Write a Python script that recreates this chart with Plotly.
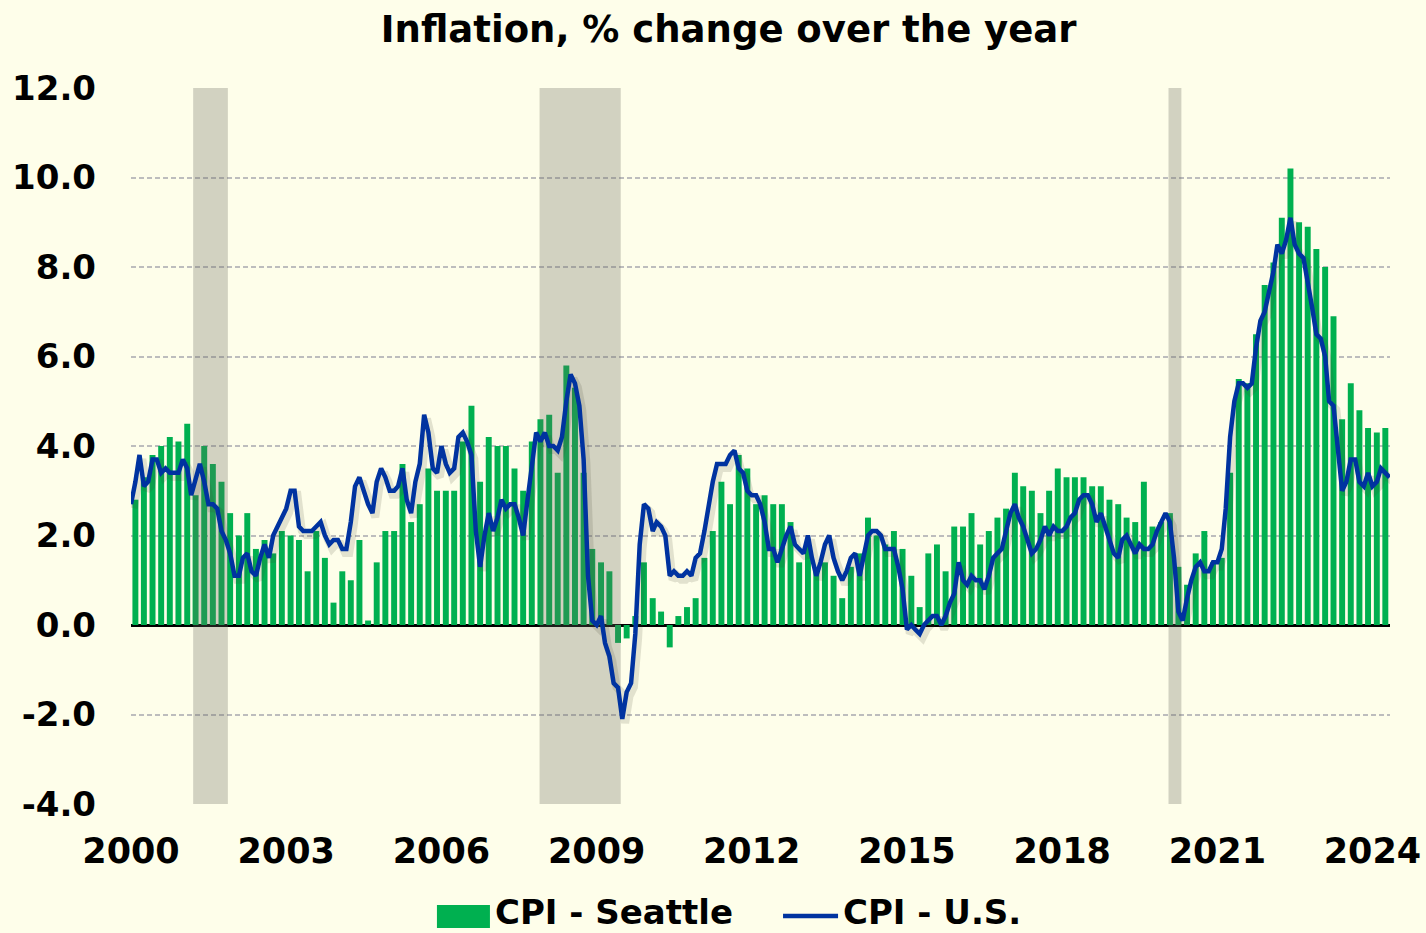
import pandas as pd
import plotly.graph_objects as go

# ---------------- data ----------------
# U.S. CPI, % change over the year, monthly Jan 2000 - May 2024
us_cpi = [
    2.7, 3.2, 3.8, 3.1, 3.2, 3.7, 3.7, 3.4, 3.5, 3.4, 3.4, 3.4,   # 2000
    3.7, 3.5, 2.9, 3.3, 3.6, 3.2, 2.7, 2.7, 2.6, 2.1, 1.9, 1.6,   # 2001
    1.1, 1.1, 1.5, 1.6, 1.2, 1.1, 1.5, 1.8, 1.5, 2.0, 2.2, 2.4,   # 2002
    2.6, 3.0, 3.0, 2.2, 2.1, 2.1, 2.1, 2.2, 2.3, 2.0, 1.8, 1.9,   # 2003
    1.9, 1.7, 1.7, 2.3, 3.1, 3.3, 3.0, 2.7, 2.5, 3.2, 3.5, 3.3,   # 2004
    3.0, 3.0, 3.1, 3.5, 2.8, 2.5, 3.2, 3.6, 4.7, 4.3, 3.5, 3.4,   # 2005
    4.0, 3.6, 3.4, 3.5, 4.2, 4.3, 4.1, 3.8, 2.1, 1.3, 2.0, 2.5,   # 2006
    2.1, 2.4, 2.8, 2.6, 2.7, 2.7, 2.4, 2.0, 2.8, 3.5, 4.3, 4.1,   # 2007
    4.3, 4.0, 4.0, 3.9, 4.2, 5.0, 5.6, 5.4, 4.9, 3.7, 1.1, 0.1,   # 2008
    0.0, 0.2, -0.4, -0.7, -1.3, -1.4, -2.1, -1.5, -1.3, -0.2, 1.8, 2.7,  # 2009
    2.6, 2.1, 2.3, 2.2, 2.0, 1.1, 1.2, 1.1, 1.1, 1.2, 1.1, 1.5,   # 2010
    1.6, 2.1, 2.7, 3.2, 3.6, 3.6, 3.6, 3.8, 3.9, 3.5, 3.4, 3.0,   # 2011
    2.9, 2.9, 2.7, 2.3, 1.7, 1.7, 1.4, 1.7, 2.0, 2.2, 1.8, 1.7,   # 2012
    1.6, 2.0, 1.5, 1.1, 1.4, 1.8, 2.0, 1.5, 1.2, 1.0, 1.2, 1.5,   # 2013
    1.6, 1.1, 1.5, 2.0, 2.1, 2.1, 2.0, 1.7, 1.7, 1.7, 1.3, 0.8,   # 2014
    -0.1, 0.0, -0.1, -0.2, 0.0, 0.1, 0.2, 0.2, 0.0, 0.2, 0.5, 0.7,  # 2015
    1.4, 1.0, 0.9, 1.1, 1.0, 1.0, 0.8, 1.1, 1.5, 1.6, 1.7, 2.1,   # 2016
    2.5, 2.7, 2.4, 2.2, 1.9, 1.6, 1.7, 1.9, 2.2, 2.0, 2.2, 2.1,   # 2017
    2.1, 2.2, 2.4, 2.5, 2.8, 2.9, 2.9, 2.7, 2.3, 2.5, 2.2, 1.9,   # 2018
    1.6, 1.5, 1.9, 2.0, 1.8, 1.6, 1.8, 1.7, 1.7, 1.8, 2.1, 2.3,   # 2019
    2.5, 2.3, 1.5, 0.3, 0.1, 0.6, 1.0, 1.3, 1.4, 1.2, 1.2, 1.4,   # 2020
    1.4, 1.7, 2.6, 4.2, 5.0, 5.4, 5.4, 5.3, 5.4, 6.2, 6.8, 7.0,   # 2021
    7.5, 7.9, 8.5, 8.3, 8.6, 9.1, 8.5, 8.3, 8.2, 7.7, 7.1, 6.5,   # 2022
    6.4, 6.0, 5.0, 4.9, 4.0, 3.0, 3.2, 3.7, 3.7, 3.2, 3.1, 3.4,   # 2023
    3.1, 3.2, 3.5, 3.4, 3.3,                                     # 2024
]
us_dates = pd.date_range("2000-01-01", periods=len(us_cpi), freq="MS")

# Seattle CPI, % change over the year, bimonthly (Feb, Apr, Jun, Aug, Oct, Dec)
seattle_cpi = [
    2.8, 3.3, 3.8, 4.0, 4.2, 4.1,    # 2000
    4.5, 2.9, 4.0, 3.6, 3.2, 2.5,    # 2001
    2.0, 2.5, 1.7, 1.9, 1.6, 2.1,    # 2002
    2.0, 1.9, 1.2, 2.1, 1.5, 0.5,    # 2003
    1.2, 1.0, 1.9, 0.1, 1.4, 2.1,    # 2004
    2.1, 3.6, 2.3, 2.7, 3.5, 3.0,    # 2005
    3.0, 3.0, 4.1, 4.9, 3.2, 4.2,    # 2006
    4.0, 4.0, 3.5, 3.0, 4.1, 4.6,    # 2007
    4.7, 3.4, 5.8, 5.3, 3.4, 1.7,    # 2008
    1.4, 1.2, -0.4, -0.3, 0.2, 1.4,  # 2009
    0.6, 0.3, -0.5, 0.2, 0.4, 0.6,   # 2010
    1.5, 2.1, 3.2, 2.7, 3.8, 3.5,    # 2011
    2.7, 2.9, 2.7, 2.7, 2.3, 1.4,    # 2012
    1.9, 1.2, 1.4, 1.1, 0.6, 1.3,    # 2013
    1.6, 2.4, 2.0, 1.8, 2.1, 1.7,    # 2014
    1.1, 0.4, 1.6, 1.8, 1.2, 2.2,    # 2015
    2.2, 2.5, 1.8, 2.1, 2.4, 2.6,    # 2016
    3.4, 3.1, 3.0, 2.5, 3.0, 3.5,    # 2017
    3.3, 3.3, 3.3, 3.1, 3.1, 2.8,    # 2018
    2.7, 2.4, 2.3, 3.2, 2.2, 2.3,    # 2019
    2.5, 1.3, 0.9, 1.6, 2.1, 1.4,    # 2020
    1.5, 3.4, 5.5, 5.4, 6.5, 7.6,    # 2021
    8.1, 9.1, 10.2, 9.0, 8.9, 8.4,   # 2022
    8.0, 6.9, 4.6, 5.4, 4.8, 4.4,    # 2023
    4.3, 4.4,                        # 2024
]
seattle_dates = pd.date_range("2000-02-01", periods=len(seattle_cpi), freq="2MS")

# Recession periods (shaded)
recession_start = ["2001-03-15", "2007-11-25", "2020-01-22"]
recession_end = ["2001-11-15", "2009-06-20", "2020-04-22"]

tick_years = ["2000", "2003", "2006", "2009", "2012", "2015", "2018", "2021", "2024"]
y_ticks = [-4, -2, 0, 2, 4, 6, 8, 10, 12]
y_tick_text = ["-4.0", "-2.0", "0.0", "2.0", "4.0", "6.0", "8.0", "10.0", "12.0"]

series_names = ["CPI - Seattle", "CPI - U.S."]

# ---------------- styling ----------------
BG = "#FEFEEA"
GREEN = "#00B050"
BLUE = "#0033A0"
FONT = "DejaVu Sans"
DAY_MS = 86400000

fig = go.Figure()

fig.add_trace(go.Bar(
    x=seattle_dates, y=seattle_cpi, name=series_names[0],
    marker=dict(color=GREEN, line=dict(width=0)),
    width=42 * DAY_MS, showlegend=False,
))

rs = pd.to_datetime(recession_start)
re_ = pd.to_datetime(recession_end)
mids = rs + (re_ - rs) / 2
widths = [(e - s).total_seconds() * 1000 for s, e in zip(rs, re_)]
fig.add_trace(go.Bar(
    x=mids, y=[16] * len(mids), base=[-4] * len(mids), width=widths,
    marker=dict(color="rgba(105,105,92,0.29)", line=dict(width=0)),
    showlegend=False, hoverinfo="skip", name="Recession",
))

# soft drop shadow under the U.S. line
fig.add_trace(go.Scatter(
    x=us_dates + pd.Timedelta(days=20), y=[v - 0.09 for v in us_cpi],
    mode="lines", line=dict(color="rgba(70,70,50,0.15)", width=8),
    showlegend=False, hoverinfo="skip",
))

fig.add_trace(go.Scatter(
    x=us_dates, y=us_cpi, name=series_names[1], mode="lines",
    line=dict(color=BLUE, width=4.5), showlegend=False,
))

# legend (drawn below the plot, in paper coordinates)
legend_y = -0.1515
legend_font = dict(family=FONT, size=34, weight="bold", color="black")
shapes = [
    dict(type="rect", xref="paper", yref="paper", x0=0.2430, x1=0.2851,
         y0=-0.1411, y1=-0.1732,
         fillcolor=GREEN, line=dict(width=0)),
    dict(type="line", xref="paper", yref="paper", x0=0.5179, x1=0.5616,
         y0=-0.1564, y1=-0.1564, line=dict(color=BLUE, width=4.5)),
]
annotations = [
    dict(text=series_names[0], xref="paper", yref="paper", x=0.2875, y=legend_y,
         xanchor="left", yanchor="middle", showarrow=False, font=legend_font),
    dict(text=series_names[1], xref="paper", yref="paper", x=0.5640, y=legend_y,
         xanchor="left", yanchor="middle", showarrow=False, font=legend_font),
]

fig.update_layout(
    width=1426, height=933,
    paper_bgcolor=BG, plot_bgcolor=BG,
    barmode="overlay",
    margin=dict(l=131, r=36, t=88, b=129, autoexpand=False),
    title=dict(
        text="Inflation, % change over the year",
        x=0.511, xanchor="center", y=0.969, yanchor="middle", yref="container",
        font=dict(family=FONT, size=37, weight="bold", color="black"),
    ),
    shapes=shapes,
    annotations=annotations,
    showlegend=False,
)

fig.update_xaxes(
    type="date",
    range=["2000-01-01", "2024-05-04"],
    tickvals=[f"{y}-01-01" for y in tick_years],
    ticktext=tick_years,
    tickfont=dict(family=FONT, size=35, weight="bold", color="black"),
    showgrid=False, showline=False, zeroline=False, ticks="",
    ticklabelstandoff=23, automargin=False,
)

fig.update_yaxes(
    range=[-4, 12],
    tickvals=y_ticks,
    ticktext=y_tick_text,
    tickfont=dict(family=FONT, size=34, weight="bold", color="black"),
    showgrid=True, gridcolor="#BDBDBD", griddash="5px,3px", gridwidth=1.5,
    zeroline=True, zerolinecolor="black", zerolinewidth=3,
    showline=False, ticks="", automargin=False,
    ticklabelstandoff=34,
)

fig.write_html(
    "out.html",
    config={"displayModeBar": False},
    post_script="document.body.style.margin='0';document.body.style.padding='0';",
)
